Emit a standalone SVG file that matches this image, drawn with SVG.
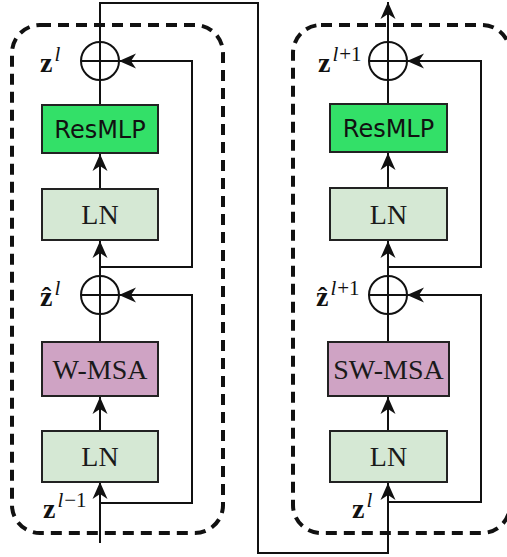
<svg xmlns="http://www.w3.org/2000/svg" width="507" height="557" viewBox="0 0 507 557">
  <defs>
    <marker id="arrow" viewBox="-18 -8 19 16" refX="0" refY="0" markerWidth="19" markerHeight="16" markerUnits="userSpaceOnUse" orient="auto">
      <path d="M0,0 L-17,-7.5 L-12,0 L-17,7.5 Z" fill="#111"/>
    </marker>
  </defs>
  <style>
    .frame { fill: none; stroke: #111; stroke-width: 4; stroke-dasharray: 11 7; }
    .box { stroke: #222; stroke-width: 2; }
    .ln { fill: #d5e8d4; }
    .mlp { fill: #33e068; }
    .msa { fill: #cfa3c4; }
    .wire { fill: none; stroke: #111; stroke-width: 2; }
    .arr { marker-end: url(#arrow); }
    .sum { fill: #fff; stroke: #111; stroke-width: 2; }
    .serif { font-family: "Liberation Serif", "Times New Roman", serif; fill: #1a1a1a; }
    .sans { font-family: "DejaVu Sans", Verdana, sans-serif; fill: #111; }
    .lbl { font-size: 28px; text-anchor: middle; }
    .var { font-family: "Liberation Serif", "Times New Roman", serif; font-size: 28px; font-weight: bold; fill: #111; }
    .sup { font-family: "Liberation Serif", "Times New Roman", serif; font-size: 21px; fill: #111; }
  </style>

  <!-- dashed outlines of the two blocks -->
  <g id="block-left">
    <rect class="frame" x="12" y="25" width="211" height="508" rx="28"/>
  </g>
  <g id="block-right">
    <rect class="frame" x="293" y="25" width="217" height="508" rx="28"/>
  </g>

  <!-- connectors -->
  <g id="connectors">
    <!-- left block -->
    <path class="wire arr" d="M100,543 V482"/>
    <path class="wire arr" d="M100,431 V397"/>
    <path class="wire" d="M100,342 V314"/>
    <path class="wire arr" d="M100,276 V241"/>
    <path class="wire arr" d="M100,189 V154"/>
    <path class="wire" d="M100,105 V80"/>
    <path class="wire arr" d="M100,503 H192 V295 H119"/>
    <path class="wire arr" d="M100,267 H192 V61 H119"/>
    <!-- link from the left block output into the right block -->
    <path class="wire arr" d="M100,42 V3 H258 V553 H388 V483"/>
    <!-- right block -->
    <path class="wire arr" d="M388,431 V397"/>
    <path class="wire" d="M388,342 V314"/>
    <path class="wire arr" d="M388,276 V241"/>
    <path class="wire arr" d="M388,188 V153"/>
    <path class="wire" d="M388,104 V80"/>
    <path class="wire arr" d="M388,42 V2"/>
    <path class="wire arr" d="M388,502 H481 V295 H407"/>
    <path class="wire arr" d="M388,267 H481 V61 H407"/>
  </g>

  <!-- left block nodes -->
  <g id="ln-1">
    <rect class="box ln" x="42" y="431" width="116" height="51"/>
    <text class="serif lbl" x="100" y="466">LN</text>
  </g>
  <g id="w-msa">
    <rect class="box msa" x="42" y="342" width="116" height="54"/>
    <text class="serif lbl" x="100" y="379">W-MSA</text>
  </g>
  <g id="add-1">
    <circle class="sum" cx="100" cy="295" r="19"/>
    <path class="wire" d="M81,295 H119 M100,276 V314"/>
  </g>
  <g id="ln-2">
    <rect class="box ln" x="42" y="189" width="116" height="51"/>
    <text class="serif lbl" x="100" y="224">LN</text>
  </g>
  <g id="resmlp-1">
    <rect class="box mlp" x="42" y="105" width="116" height="48"/>
    <text class="sans" x="100" y="138" font-size="24" text-anchor="middle">ResMLP</text>
  </g>
  <g id="add-2">
    <circle class="sum" cx="100" cy="61" r="19"/>
    <path class="wire" d="M81,61 H119 M100,42 V80"/>
  </g>

  <!-- right block nodes -->
  <g id="ln-3">
    <rect class="box ln" x="330" y="431" width="117" height="51"/>
    <text class="serif lbl" x="388.5" y="466">LN</text>
  </g>
  <g id="sw-msa">
    <rect class="box msa" x="328" y="342" width="121" height="54"/>
    <text class="serif lbl" x="388.5" y="379">SW-MSA</text>
  </g>
  <g id="add-3">
    <circle class="sum" cx="388" cy="295" r="19"/>
    <path class="wire" d="M369,295 H407 M388,276 V314"/>
  </g>
  <g id="ln-4">
    <rect class="box ln" x="330" y="188" width="117" height="52"/>
    <text class="serif lbl" x="388.5" y="224">LN</text>
  </g>
  <g id="resmlp-2">
    <rect class="box mlp" x="330" y="104" width="117" height="48"/>
    <text class="sans" x="388.5" y="137" font-size="24" text-anchor="middle">ResMLP</text>
  </g>
  <g id="add-4">
    <circle class="sum" cx="388" cy="61" r="19"/>
    <path class="wire" d="M369,61 H407 M388,42 V80"/>
  </g>

  <!-- variable labels -->
  <g id="labels">
    <text x="40" y="72"><tspan class="var">z</tspan><tspan class="sup" font-style="italic" dx="2" dy="-11">l</tspan></text>
    <text x="40" y="306"><tspan class="var">ẑ</tspan><tspan class="sup" font-style="italic" dx="2" dy="-11">l</tspan></text>
    <text x="43" y="518"><tspan class="var">z</tspan><tspan class="sup" font-style="italic" dx="2" dy="-11">l</tspan><tspan class="sup" dx="1">−1</tspan></text>
    <text x="318" y="72"><tspan class="var">z</tspan><tspan class="sup" font-style="italic" dx="2" dy="-11">l</tspan><tspan class="sup" dx="1">+1</tspan></text>
    <text x="316" y="306"><tspan class="var">ẑ</tspan><tspan class="sup" font-style="italic" dx="2" dy="-11">l</tspan><tspan class="sup" dx="1">+1</tspan></text>
    <text x="352" y="518"><tspan class="var">z</tspan><tspan class="sup" font-style="italic" dx="2" dy="-11">l</tspan></text>
  </g>
</svg>
